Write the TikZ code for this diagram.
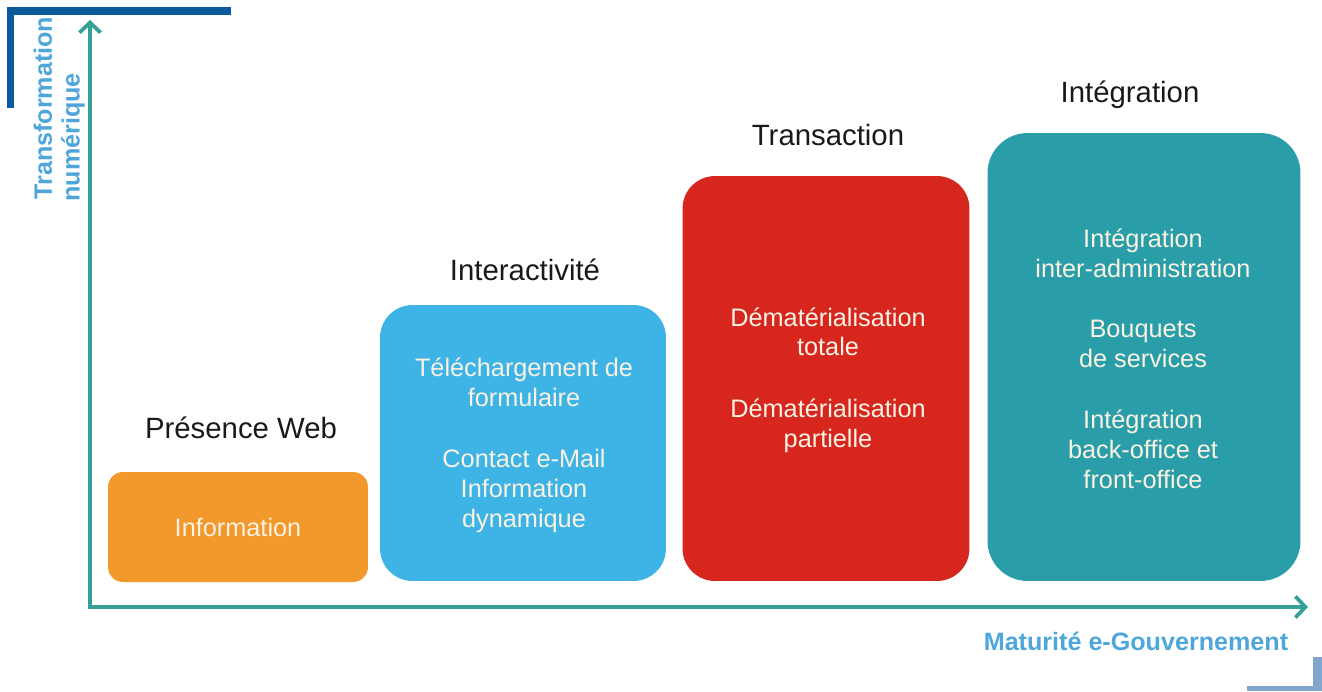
\documentclass[tikz,border=0pt]{standalone}
\usepackage{fontspec}
\setmainfont{Liberation Sans}
\usetikzlibrary{arrows.meta}

\definecolor{webOrange}{RGB}{243,152,42}
\definecolor{interBlue}{RGB}{62,180,230}
\definecolor{transRed}{RGB}{214,38,30}
\definecolor{integTeal}{RGB}{42,158,168}
\definecolor{axisTeal}{RGB}{52,160,152}
\definecolor{labelBlue}{RGB}{78,166,218}
\definecolor{cornerDark}{RGB}{10,90,158}
\definecolor{cornerLight}{RGB}{128,166,206}
\definecolor{boxText}{RGB}{250,242,228}

\begin{document}
\begin{tikzpicture}[x=0.02cm, y=-0.02cm,
  stage/.style={rounded corners=0.65cm, inner sep=0},
  stagetxt/.style={text=boxText, align=center, font=\fontsize{14.4}{17}\selectfont},
  title/.style={text=black!90, font=\fontsize{16.7}{20}\selectfont},
  axislabel/.style={text=labelBlue, inner sep=0, font=\bfseries\fontsize{14.3}{16}\selectfont},
  axis/.style={draw=axisTeal, line width=0.075cm, line join=miter,
    {Straight Barb[length=0.2cm,width=0.42cm]}-{Straight Barb[length=0.2cm,width=0.42cm]}}]
\useasboundingbox (0,0) rectangle (1322,691);

\fill[cornerDark] (7,7) rectangle (231,15);
\fill[cornerDark] (7,7) rectangle (14,108);
\fill[cornerLight] (1313,657) rectangle (1322,691);
\fill[cornerLight] (1247,686) rectangle (1322,691);

\coordinate (origin) at (90,607);
\coordinate (ytip) at (90,20);
\coordinate (xtip) at (1308,607);
\draw[axis] (ytip) -- (origin) -- (xtip);

\node[axislabel, rotate=90, anchor=west] (ylabA) at (43,200) {Transformation};
\node[axislabel, rotate=90, anchor=west] (ylabB) at (73,202) {numérique};
\node[axislabel] (xlab) at (1136,641) {Maturité e-Gouvernement};

\node[stage, fill=webOrange, rounded corners=0.3cm, minimum width=5.2cm, minimum height=2.2cm] (web) at (238,527) {};
\node[stage, fill=interBlue, minimum width=5.72cm, minimum height=5.52cm] (inter) at (523,443) {};
\node[stage, fill=transRed, minimum width=5.74cm, minimum height=8.1cm] (trans) at (826,378.5) {};
\node[stage, fill=integTeal, rounded corners=0.8cm, minimum width=6.26cm, minimum height=8.96cm] (integ) at (1144,357) {};

\node[title] (webtitle) at (241,428) {Présence Web};
\node[title] (intertitle) at (525,270) {Interactivité};
\node[title] (transtitle) at (828,135) {Transaction};
\node[title] (integtitle) at (1130,95) {Intégration};

\node[stagetxt] (webtxt) at (238,527) {Information};
\node[stagetxt] (intertxt) at (524,445) {Téléchargement de\\formulaire\\[18pt]Contact e-Mail\\Information\\dynamique};
\node[stagetxt] (transtxt) at (828,380) {Dématérialisation\\totale\\[18pt]Dématérialisation\\partielle};
\node[stagetxt] (integtxt) at (1143,359) {Intégration\\inter-administration\\[17pt]Bouquets\\de services\\[18pt]Intégration\\back-office et\\front-office};
\end{tikzpicture}
\end{document}
